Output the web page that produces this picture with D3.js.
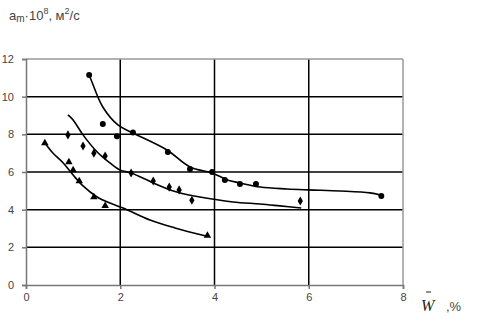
<!DOCTYPE html>
<meta charset="utf-8">
<script src="https://d3js.org/d3.v7.min.js"></script>
<style>
  body { margin: 0; background: #fff; }
  text { font-family: "Liberation Sans", Arial, sans-serif; }
</style>
<div id="chart"></div>
<script>
    // measured points: top (circles), middle (diamonds), bottom (triangles)
    const topX = [1.34, 1.63, 1.93, 2.27, 3.01, 3.48, 3.95, 4.22, 4.54, 4.88, 7.54];
    const topY = [11.15, 8.55, 7.9, 8.1, 7.06, 6.16, 6.0, 5.58, 5.36, 5.36, 4.73];
    const midX = [0.89, 1.21, 1.44, 1.68, 2.23, 2.7, 3.04, 3.25, 3.52, 5.82];
    const midY = [7.97, 7.38, 7.0, 6.85, 5.95, 5.52, 5.2, 5.05, 4.5, 4.46];
    const lowX = [0.40, 0.91, 1.0, 1.13, 1.44, 1.68, 3.85];
    const lowY = [7.54, 6.53, 6.1, 5.52, 4.67, 4.2, 2.62];

    // fitted curves
    const topCurveX = [1.34, 1.40, 1.63, 1.95, 2.27, 2.99, 3.48, 3.95, 4.27, 4.54, 4.97, 5.54, 6.0, 6.67, 7.3, 7.52];
    const topCurveY = [11.15, 10.78, 9.45, 8.5, 8.07, 7.17, 6.27, 5.95, 5.58, 5.42, 5.2, 5.1, 5.05, 4.99, 4.89, 4.78];
    const midCurveX = [0.89, 1.0, 1.21, 1.51, 1.78, 2.0, 2.23, 2.7, 3.06, 3.27, 3.69, 4.39, 4.97, 5.39, 5.84];
    const midCurveY = [9.03, 8.76, 7.97, 7.06, 6.48, 6.1, 5.95, 5.42, 5.05, 4.89, 4.67, 4.41, 4.3, 4.2, 4.09];
    const lowCurveX = [0.40, 0.57, 0.79, 1.0, 1.21, 1.51, 1.78, 2.06, 2.63, 3.16, 3.82];
    const lowCurveY = [7.54, 7.01, 6.48, 5.84, 5.26, 4.67, 4.35, 4.09, 3.45, 3.03, 2.6];

    const xTicks = [0, 2, 4, 6, 8];
    const yTicks = [0, 2, 4, 6, 8, 10, 12];

    const W = 481, H = 319;
    const x = d3.scaleLinear().domain([0, 8]).range([26, 403]);
    const y = d3.scaleLinear().domain([0, 12]).range([285, 59]);

    const svg = d3.select("#chart").append("svg")
        .attr("width", W).attr("height", H);

    // grid
    svg.append("g").selectAll("line")
        .data(yTicks.filter(d => d > 0 && d < 12))
        .join("line")
            .attr("x1", x(0)).attr("x2", x(8))
            .attr("y1", d => y(d)).attr("y2", d => y(d))
            .attr("stroke", "#000").attr("stroke-width", 1.5);
    svg.append("g").selectAll("line")
        .data(xTicks.filter(d => d > 0 && d < 8))
        .join("line")
            .attr("y1", y(0)).attr("y2", y(12))
            .attr("x1", d => x(d)).attr("x2", d => x(d))
            .attr("stroke", "#000").attr("stroke-width", 1.5);

    // border top/right
    svg.append("line").attr("x1", x(0)).attr("x2", x(8)).attr("y1", y(12)).attr("y2", y(12))
        .attr("stroke", "#999").attr("stroke-width", 1.5);
    svg.append("line").attr("x1", x(8)).attr("x2", x(8)).attr("y1", y(0)).attr("y2", y(12))
        .attr("stroke", "#999").attr("stroke-width", 1.5);

    // axes
    const yAxis = svg.append("g")
        .attr("transform", `translate(${x(0)},0)`)
        .call(d3.axisLeft(y).tickValues(yTicks).tickSize(4).tickPadding(8));
    const xAxis = svg.append("g")
        .attr("transform", `translate(0,${y(0)})`)
        .call(d3.axisBottom(x).tickValues(xTicks).tickSize(4).tickPadding(4));
    [xAxis, yAxis].forEach(a => {
        a.select(".domain").attr("stroke", "#777").attr("stroke-width", 1.5);
        a.selectAll(".tick line").attr("stroke", "#777").attr("stroke-width", 1.5);
        a.selectAll(".tick text").attr("fill", "#444")
            .style("font-size", "11px").style("font-family", "Liberation Sans, Arial, sans-serif");
    });

    // curves
    const line = d3.line().x(d => x(d[0])).y(d => y(d[1])).curve(d3.curveCatmullRom);
    [[topCurveX, topCurveY], [midCurveX, midCurveY], [lowCurveX, lowCurveY]].forEach(([cx, cy]) => {
        svg.append("path")
            .datum(d3.zip(cx, cy))
            .attr("d", line)
            .attr("fill", "none")
            .attr("stroke", "#000")
            .attr("stroke-width", 1.6);
    });

    // markers
    const series = [
        [topX, topY, d3.symbolCircle, 28],
        [midX, midY, d3.symbolDiamond, 24],
        [lowX, lowY, d3.symbolTriangle, 24]
    ];
    series.forEach(([sx, sy, sym, size]) => {
        svg.append("g").selectAll("path")
            .data(d3.zip(sx, sy))
            .join("path")
                .attr("transform", d => `translate(${x(d[0])},${y(d[1])})`)
                .attr("d", d3.symbol().type(sym).size(size))
                .attr("fill", "#000");
    });

    // y title
    const t = svg.append("text").attr("x", 9).attr("y", 20)
        .attr("fill", "#444").style("font-size", "13px");
    t.append("tspan").text("a");
    t.append("tspan").attr("dy", 2).style("font-size", "10px").text("m");
    t.append("tspan").attr("dy", -2).text("·10");
    t.append("tspan").attr("dy", -6).style("font-size", "9px").text("8");
    t.append("tspan").attr("dy", 6).text(", м");
    t.append("tspan").attr("dy", -6).style("font-size", "9px").text("2");
    t.append("tspan").attr("dy", 6).text("/с");

    // x title
    svg.append("text").attr("x", 421).attr("y", 311)
        .style("font-family", "Liberation Serif, Times New Roman, serif")
        .style("font-style", "italic").style("font-size", "16px")
        .attr("fill", "#222").text("W");
    svg.append("line").attr("x1", 426).attr("x2", 431).attr("y1", 292).attr("y2", 292)
        .attr("stroke", "#222").attr("stroke-width", 1);
    svg.append("text").attr("x", 446).attr("y", 311)
        .attr("fill", "#444").style("font-size", "13px").text(",%");
</script>
